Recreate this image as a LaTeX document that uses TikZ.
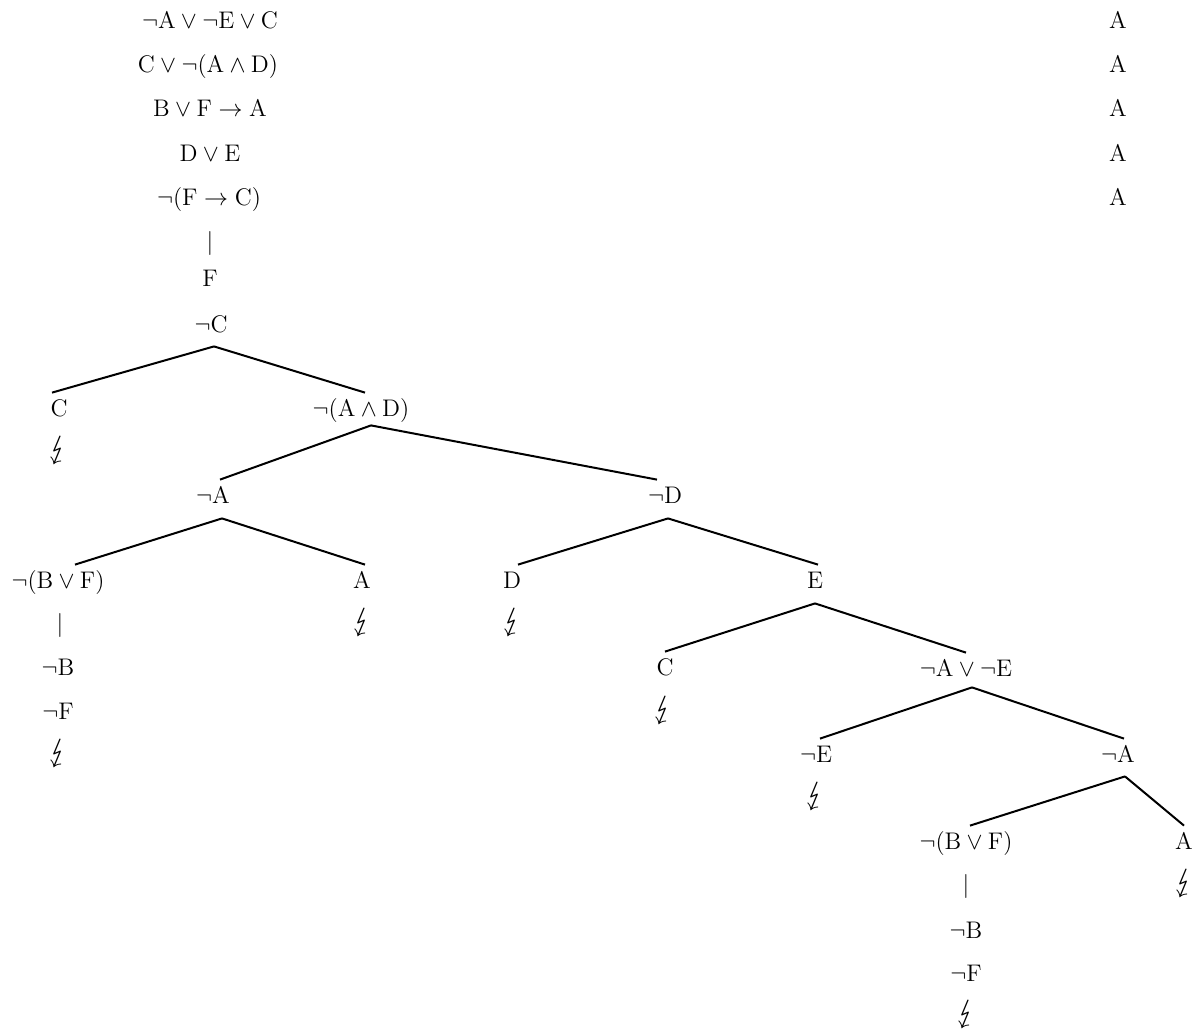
\documentclass[tikz,border=0pt]{standalone}
\usepackage{stmaryrd}
\usepackage{graphicx}
\begin{document}
\begin{tikzpicture}[x=0.5pt,y=-0.5pt,
  f/.style={inner xsep=0pt,inner ysep=2.5pt,text height=9pt,text depth=3pt,font=\fontsize{12}{14}\selectfont},
  br/.style={line width=1pt}]
\useasboundingbox (0,0) rectangle (1200,1030);
\newcommand\fm[1]{$\mathrm{#1}$}
\newcommand\zap{\scalebox{1.35}{$\lightning$}}
% premises
\node[f] (p1) at (210,22) {\fm{\neg A \vee \neg E \vee C}};
\node[f] (p2) at (208,66) {\fm{C \vee \neg(A \wedge D)}};
\node[f] (p3) at (210,110) {\fm{B \vee F \to A}};
\node[f] (p4) at (210,155) {\fm{D \vee E}};
\node[f] (p5) at (209,199) {\fm{\neg(F \to C)}};
\node[f] (a1) at (1118,22) {\fm{A}};
\node[f] (a2) at (1118,66) {\fm{A}};
\node[f] (a3) at (1118,110) {\fm{A}};
\node[f] (a4) at (1118,155) {\fm{A}};
\node[f] (a5) at (1118,199) {\fm{A}};
\node[f] (v1) at (210,243) {$|$};
\node[f] (n1) at (210,280) {\fm{F}};
\node[f] (n2) at (211,326) {\fm{\neg C}};
% level 1
\node[f] (c1) at (59,410) {\fm{C}};
\node[f] (z1) at (58,452) {\zap};
\node[f] (ad) at (361,410) {\fm{\neg(A \wedge D)}};
% level 2
\node[f] (na) at (213,497) {\fm{\neg A}};
\node[f] (nd) at (665,497) {\fm{\neg D}};
% level 3
\node[f] (bf1) at (58,582) {\fm{\neg(B \vee F)}};
\node[f] (v2) at (60,625) {$|$};
\node[f] (nb1) at (58,669) {\fm{\neg B}};
\node[f] (nf1) at (58,713) {\fm{\neg F}};
\node[f] (z2) at (58,755) {\zap};
\node[f] (aa) at (362,582) {\fm{A}};
\node[f] (z3) at (362,624) {\zap};
\node[f] (dd) at (512,582) {\fm{D}};
\node[f] (z4) at (512,624) {\zap};
\node[f] (ee) at (815,582) {\fm{E}};
% level 4
\node[f] (c2) at (665,669) {\fm{C}};
\node[f] (z5) at (663,712) {\zap};
\node[f] (ae) at (966,670) {\fm{\neg A \vee \neg E}};
% level 5
\node[f] (ne) at (816,756) {\fm{\neg E}};
\node[f] (z6) at (815,798) {\zap};
\node[f] (na2) at (1118,756) {\fm{\neg A}};
% level 6
\node[f] (bf2) at (966,843) {\fm{\neg(B \vee F)}};
\node[f] (v3) at (966,886) {$|$};
\node[f] (nb2) at (966,932) {\fm{\neg B}};
\node[f] (nf2) at (966,975) {\fm{\neg F}};
\node[f] (z7) at (966,1016) {\zap};
\node[f] (a6) at (1184,843) {\fm{A}};
\node[f] (z8) at (1184,885) {\zap};
% edges
\draw[br] ([xshift=1.5pt,yshift=-1.5pt]n2.south) -- ([xshift=-3.5pt]c1.north);
\draw[br] ([xshift=1.5pt,yshift=-1.5pt]n2.south) -- ([xshift=2pt]ad.north);
\draw[br] ([xshift=5pt,yshift=1pt]ad.south) -- ([xshift=3.5pt]na.north);
\draw[br] ([xshift=5pt,yshift=1pt]ad.south) -- ([xshift=-4pt]nd.north);
\draw[br] ([xshift=4.5pt,yshift=-2pt]na.south) -- ([xshift=8.5pt]bf1.north);
\draw[br] ([xshift=4.5pt,yshift=-2pt]na.south) -- ([xshift=1.5pt]aa.north);
\draw[br] ([xshift=1.5pt,yshift=-2pt]nd.south) -- ([xshift=3pt]dd.north);
\draw[br] ([xshift=1.5pt,yshift=-2pt]nd.south) -- ([xshift=1.5pt]ee.north);
\draw[br] ([yshift=-2pt]ee.south) -- (c2.north);
\draw[br] ([yshift=-2pt]ee.south) -- (ae.north);
\draw[br] ([xshift=3pt]ae.south) -- ([xshift=2pt]ne.north);
\draw[br] ([xshift=3pt]ae.south) -- ([xshift=3pt]na2.north);
\draw[br] ([xshift=3.5pt,yshift=-1.5pt]na2.south) -- ([xshift=2pt]bf2.north);
\draw[br] ([xshift=3.5pt,yshift=-1.5pt]na2.south) -- (a6.north);
\end{tikzpicture}
\end{document}
